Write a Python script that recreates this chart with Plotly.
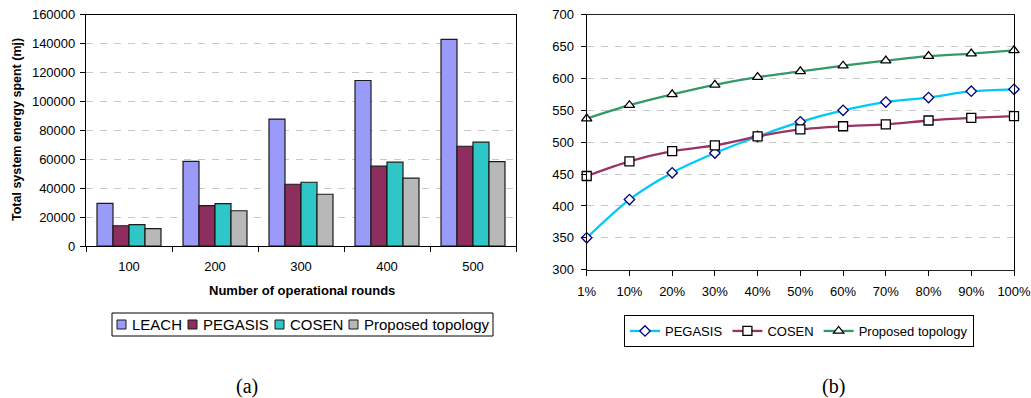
import plotly.graph_objects as go

# ---- (a) energy spent per number of operational rounds ----
rounds = ["100", "200", "300", "400", "500"]
leach = [29500, 58500, 87800, 114500, 142900]
pegasis = [14000, 27900, 42700, 55200, 69000]
cosen = [14800, 29300, 44100, 58000, 71800]
proposed_a = [12000, 24400, 35800, 46900, 58400]

# ---- (b) values per percentage ----
percent_labels = ["1%", "10%", "20%", "30%", "40%", "50%", "60%", "70%", "80%", "90%", "100%"]
pegasis_b = [350, 410, 452, 483, 509, 532, 550, 563, 570, 580, 583]
cosen_b = [447, 470, 486, 495, 509, 520, 525, 528, 534, 538, 541]
proposed_b = [537, 558, 575, 590, 602, 611, 620, 628, 635, 639, 644]

W, H = 1031, 398
FONT = "Liberation Sans, Arial, sans-serif"
SERIF = "Liberation Serif, Times New Roman, serif"


def px_x(x):
    return x / W


def px_y(y):
    return 1 - y / H


fig = go.Figure()

bar_styles = [
    ("LEACH", leach, "#9A9AF8"),
    ("PEGASIS", pegasis, "#8E2E5E"),
    ("COSEN", cosen, "#2EC6C6"),
    ("Proposed topology", proposed_a, "#B8B8B8"),
]
for name, vals, color in bar_styles:
    fig.add_trace(go.Bar(
        x=rounds, y=vals, name=name, showlegend=False,
        marker=dict(color=color, line=dict(color="#1a1a1a", width=1.2)),
        xaxis="x", yaxis="y",
    ))

x_b = list(range(len(percent_labels)))
line_styles = [
    ("PEGASIS", pegasis_b, "#00C8F8", "diamond", 8, "#000080"),
    ("COSEN", cosen_b, "#993366", "square", 9, "#000000"),
    ("Proposed topology", proposed_b, "#339966", "triangle-up", 9, "#000000"),
]
for name, vals, color, sym, size, edge in line_styles:
    fig.add_trace(go.Scatter(
        x=x_b, y=vals, name=name, mode="lines+markers", cliponaxis=False,
        line=dict(color=color, width=2.3, shape="spline", smoothing=0.8),
        marker=dict(symbol=sym, size=size, color="white",
                    line=dict(color=edge, width=1.3)),
        xaxis="x2", yaxis="y2", legend="legend",
    ))

grid = dict(showgrid=True, gridcolor="#C8C8C8", griddash="7px,7px", gridwidth=1)
tickfont = dict(family=FONT, size=13, color="#000")

# Legend box for the bar chart: swatches and labels laid out in one row
shapes = [dict(type="rect", xref="paper", yref="paper",
               x0=px_x(112), x1=px_x(493), y0=px_y(336), y1=px_y(313),
               line=dict(color="#000", width=1), fillcolor="white", layer="above")]
annotations = []
swatch_left = [117, 188, 275, 349]
for (name, _, color), sx in zip(bar_styles, swatch_left):
    shapes.append(dict(type="rect", xref="paper", yref="paper",
                       x0=px_x(sx), x1=px_x(sx + 9), y0=px_y(329), y1=px_y(320),
                       line=dict(color="#1a1a1a", width=1), fillcolor=color,
                       layer="above"))
    annotations.append(dict(text=name, x=px_x(sx + 13), y=px_y(324.5),
                            xref="paper", yref="paper",
                            xanchor="left", yanchor="middle",
                            showarrow=False,
                            font=dict(family=FONT, size=15, color="#000")))

annotations += [
    dict(text="<b>Total system energy spent (mj)</b>", x=px_x(17), y=px_y(130),
         xref="paper", yref="paper", xanchor="center", yanchor="middle",
         textangle=-90, showarrow=False,
         font=dict(family=FONT, size=12.5, color="#000")),
    dict(text="<b>Number of operational rounds</b>", x=px_x(302), y=px_y(290),
         xref="paper", yref="paper", xanchor="center", yanchor="middle",
         showarrow=False, font=dict(family=FONT, size=13, color="#000")),
    dict(text="(a)", x=px_x(247), y=px_y(386), xref="paper", yref="paper",
         xanchor="center", yanchor="middle",
         showarrow=False, font=dict(family=SERIF, size=20, color="#000")),
    dict(text="(b)", x=px_x(833), y=px_y(386), xref="paper", yref="paper",
         xanchor="center", yanchor="middle",
         showarrow=False, font=dict(family=SERIF, size=20, color="#000")),
]

fig.update_layout(
    width=W, height=H,
    margin=dict(l=0, r=0, t=0, b=0),
    paper_bgcolor="white", plot_bgcolor="white",
    font=dict(family=FONT, size=13, color="#000"),
    bargap=0.256, bargroupgap=0,
    xaxis=dict(
        domain=[px_x(86), px_x(516)], anchor="y", automargin=False,
        type="category", tickson="boundaries", ticks="outside", ticklen=5,
        tickcolor="#000", showline=True, linecolor="#000", linewidth=1.2,
        mirror=True, tickfont=tickfont, ticklabelstandoff=8, showgrid=False,
    ),
    yaxis=dict(
        domain=[px_y(246), px_y(14.7)], anchor="x", automargin=False,
        range=[0, 160000], dtick=20000, tickformat="d",
        ticks="outside", ticklen=5, tickcolor="#000",
        showline=True, linecolor="#000", linewidth=1.2, mirror=True,
        tickfont=tickfont, ticklabelstandoff=2, zeroline=False, **grid,
    ),
    xaxis2=dict(
        domain=[px_x(586.7), px_x(1014)], anchor="y2", automargin=False,
        range=[0, 10.0001], tickvals=x_b, ticktext=percent_labels,
        ticklabeloverflow="allow",
        ticks="outside", ticklen=5, tickcolor="#000",
        showline=True, linecolor="#222", linewidth=1.2, mirror=True,
        tickfont=tickfont, ticklabelstandoff=5, showgrid=False, zeroline=False,
    ),
    yaxis2=dict(
        domain=[px_y(269.7), px_y(14.7)], anchor="x2", automargin=False,
        range=[300, 700], dtick=50,
        ticks="outside", ticklen=5, tickcolor="#000",
        showline=True, linecolor="#000", linewidth=1.2, mirror=True,
        tickfont=tickfont, ticklabelstandoff=4, zeroline=False, **grid,
    ),
    legend=dict(
        orientation="h", x=px_x(799), xanchor="center",
        y=px_y(315), yanchor="top",
        bordercolor="#000", borderwidth=1, bgcolor="white",
        font=dict(family=FONT, size=13, color="#000"),
        itemwidth=30, tracegroupgap=0,
    ),
    shapes=shapes,
    annotations=annotations,
)

fig.write_html("out.html")
